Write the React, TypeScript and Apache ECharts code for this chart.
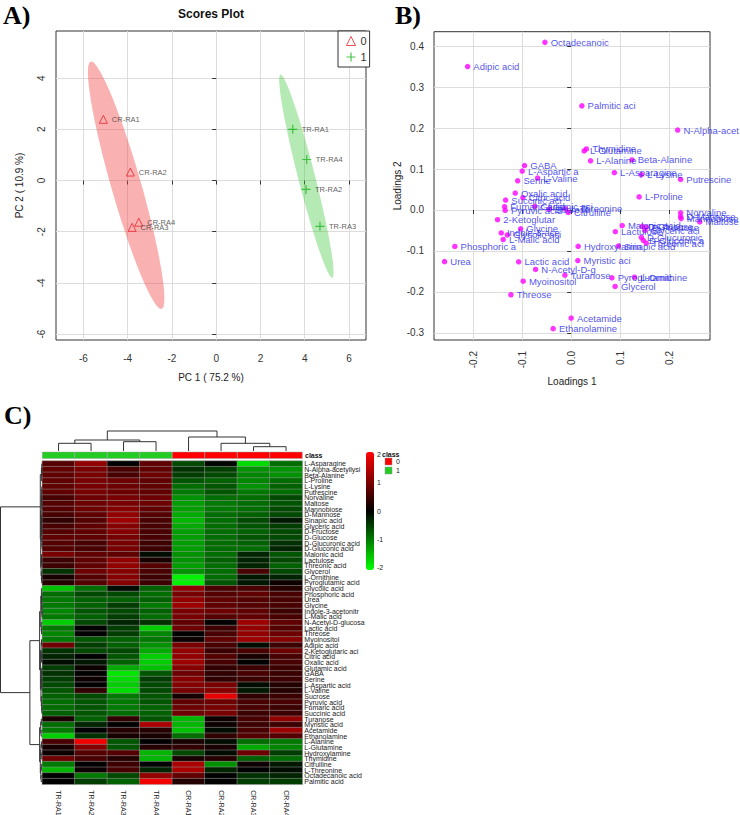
import React, { useEffect, useRef } from 'react';
import * as echarts from 'echarts';

const FONT = '"Liberation Sans", Arial, Helvetica, sans-serif';
const RED = '#e8262e';
const GREEN = '#1fb51f';

// ---------- Panel A: PCA scores ----------
const crNames = ['CR-RA1', 'CR-RA2', 'CR-RA3', 'CR-RA4'];
const crPC1 = [-5.1, -3.88, -3.8, -3.5];
const crPC2 = [2.39, 0.33, -1.83, -1.63];
const trNames = ['TR-RA1', 'TR-RA2', 'TR-RA3', 'TR-RA4'];
const trPC1 = [3.46, 4.06, 4.69, 4.09];
const trPC2 = [2.0, -0.35, -1.79, 0.82];
const pcTicksX = [-6, -4, -2, 0, 2, 4, 6];
const pcTicksY = [-6, -4, -2, 0, 2, 4];

// ---------- Metabolites (heatmap row order) ----------
const metabolites = [
  'L-Asparagine', 'N-Alpha-acetyllysine', 'Beta-Alanine', 'L-Proline', 'L-Lysine', 'Putrescine',
  'Norvaline', 'Maltose', 'Mannobiose', 'D-Mannose', 'Sinapic acid', 'Glyceric acid', 'D-Fructose',
  'D-Glucose', 'D-Glucuronic acid', 'D-Gluconic acid', 'Malonic acid', 'Lactulose', 'Threonic acid',
  'Glycerol', 'L-Ornithine', 'Pyroglutamic acid', 'Glycolic acid', 'Phosphoric acid', 'Urea',
  'Glycine', 'Indole-3-acetonitrile', 'L-Malic acid', 'N-Acetyl-D-glucosamine', 'Lactic acid',
  'Threose', 'Myoinositol', 'Adipic acid', '2-Ketoglutaric acid', 'Citric acid', 'Oxalic acid',
  'Glutamic acid', 'GABA', 'Serine', 'L-Aspartic acid', 'L-Valine', 'Sucrose', 'Pyruvic acid',
  'Fumaric acid', 'Succinic acid', 'Turanose', 'Myristic acid', 'Acetamide', 'Ethanolamine',
  'L-Alanine', 'L-Glutamine', 'Hydroxylamine', 'Thymidine', 'Citrulline', 'L-Threonine',
  'Octadecanoic acid', 'Palmitic acid',
];

// ---------- Panel B: loadings ----------
const load1 = [
  0.088, 0.217, 0.124, 0.1385, 0.143, 0.223, 0.223, 0.262, 0.224, 0.223, 0.096, 0.15, 0.153,
  0.145, 0.143, 0.147, 0.104, 0.09, 0.153, 0.0896, 0.129, 0.083, -0.13, -0.237, -0.258, -0.103,
  -0.1425, -0.1385, -0.0725, -0.107, -0.1228, -0.0978, -0.211, -0.15, -0.0984, -0.114, -0.074,
  -0.095, -0.109, -0.0998, -0.0684, -0.045, -0.1344, -0.1357, -0.1336, -0.0128, 0.0136, 0.0,
  -0.0367, 0.0395, 0.0265, 0.0143, 0.031, -0.006, -0.012, -0.0535, 0.0218,
];
const load2 = [
  0.091, 0.195, 0.122, 0.032, 0.086, 0.0745, -0.007, -0.029, -0.021, -0.016, -0.088, -0.05, -0.042,
  -0.04, -0.067, -0.074, -0.038, -0.053, -0.081, -0.1866, -0.164, -0.1655, -0.061, -0.089, -0.126,
  -0.046, -0.056, -0.072, -0.145, -0.1265, -0.2068, -0.1737, 0.35, -0.0236, 0.03, 0.0413, 0.009,
  0.1085, 0.0713, 0.0949, 0.0778, 0.002, -0.001, 0.008, 0.0243, -0.159, -0.1234, -0.2637, -0.2895,
  0.12, 0.144, -0.0885, 0.149, -0.006, 0.003, 0.409, 0.254,
];
const loadTicksX = [-0.2, -0.1, 0, 0.1, 0.2];
const loadTicksY = [-0.3, -0.2, -0.1, 0, 0.1, 0.2, 0.3, 0.4];

// ---------- Panel C: heatmap ----------
const sampleNames = ['TR-RA1', 'TR-RA2', 'TR-RA3', 'TR-RA4', 'CR-RA1', 'CR-RA2', 'CR-RA3', 'CR-RA4'];
const sampleClass = [1, 1, 1, 1, 0, 0, 0, 0];
const heatValues = [
  [0.7, 1.2, 0.0, 0.8, -0.6, -0.05, -1.8, -0.9],
  [0.8, 1.0, 0.6, 0.8, -0.4, -0.5, -1.2, -1.2],
  [0.8, 1.0, 0.6, 0.9, -0.5, -0.6, -1.1, -1.2],
  [0.8, 1.0, 0.9, 0.8, -0.7, -0.8, -1.1, -0.9],
  [0.8, 1.0, 0.9, 0.8, -0.9, -0.7, -1.2, -0.8],
  [0.8, 1.0, 0.9, 0.8, -1.0, -0.7, -1.0, -0.9],
  [0.6, 0.9, 1.0, 0.9, -1.2, -0.9, -0.9, -0.6],
  [0.7, 0.9, 1.0, 0.9, -1.3, -1.0, -0.9, -0.7],
  [0.7, 0.9, 1.1, 0.8, -1.3, -1.0, -0.9, -0.6],
  [0.6, 0.8, 1.2, 0.7, -1.4, -0.9, -0.8, -0.6],
  [0.4, 0.7, 1.3, 0.6, -1.5, -0.9, -0.6, -0.2],
  [0.6, 0.8, 1.1, 0.6, -1.4, -0.9, -0.7, -0.5],
  [0.7, 0.8, 1.1, 0.6, -1.3, -0.9, -0.8, -0.6],
  [0.8, 0.8, 1.0, 0.6, -1.3, -0.9, -0.7, -0.6],
  [0.7, 0.6, 1.0, 0.5, -1.3, -0.9, -0.8, -0.4],
  [0.7, 0.6, 1.0, 0.5, -1.3, -0.9, -0.9, -0.3],
  [1.0, 0.8, 0.8, -0.1, -1.2, -0.9, -0.3, -0.7],
  [0.5, 0.8, 1.2, 0.2, -1.2, -0.8, -0.3, -0.6],
  [0.5, 0.8, 1.2, 0.7, -1.3, -0.9, -0.3, -0.8],
  [-0.4, 0.9, 1.1, 0.6, -1.2, -0.9, 0.6, -0.6],
  [0.2, 0.7, 1.1, 0.5, -2.0, -0.9, -0.2, -0.3],
  [0.3, 0.7, 1.1, 0.5, -2.0, -0.7, -0.2, 0.1],
  [-1.6, -0.9, -0.1, -0.8, 1.2, 0.6, 0.6, 0.3],
  [-0.9, -0.6, -0.6, -0.9, 1.0, 0.7, 0.8, 0.6],
  [-1.0, -0.8, -0.8, -0.8, 1.2, 0.8, 0.7, 0.6],
  [-1.0, -0.8, -0.5, -1.0, 1.3, 0.8, 0.7, 0.6],
  [-1.1, -0.7, -0.6, -0.8, 1.0, 0.9, 0.8, 0.5],
  [-1.0, -0.8, -0.5, -0.9, 1.0, 0.7, 0.8, 0.6],
  [-1.7, -0.6, -0.3, -0.4, 0.8, 0.0, 1.3, 0.8],
  [-1.0, 0.0, -0.5, -1.7, 0.9, 0.5, 1.2, 0.7],
  [-1.1, 0.0, -0.5, -1.1, 0.0, 0.6, 1.2, 0.9],
  [-1.0, -0.7, -0.8, -1.0, 0.1, 0.8, 1.3, 1.1],
  [0.9, -0.5, -0.8, -1.2, 1.0, 0.6, -0.1, 0.5],
  [-0.4, -0.6, -0.6, -1.4, 1.2, 0.5, 0.6, 0.9],
  [-0.3, 0.0, -0.7, -1.7, 1.2, 0.7, 0.2, 0.6],
  [-0.1, -0.2, -0.8, -1.7, 1.3, 0.6, 0.0, 0.6],
  [-0.5, 0.1, -1.4, -1.6, 1.1, 0.4, 0.5, 0.5],
  [-0.4, 0.0, -1.9, -0.7, 0.9, 0.4, 0.6, 0.5],
  [-0.5, 0.1, -1.8, -0.5, 1.1, 0.4, 0.5, 0.5],
  [-0.6, 0.0, -1.7, -0.6, 1.1, 1.0, -0.1, 0.3],
  [-0.7, 0.4, -1.8, -0.6, 1.0, 1.1, -0.2, 0.3],
  [-0.8, -0.6, -1.0, -0.7, 0.2, 1.9, 0.4, 0.5],
  [-0.9, -0.7, -1.0, -0.7, 0.8, 0.9, 0.6, 0.6],
  [-0.9, -0.7, -1.0, -0.8, 0.9, 1.0, 0.6, 0.5],
  [-0.8, -0.7, -0.9, -0.8, 0.9, 1.0, 0.5, 0.5],
  [0.2, -0.8, 0.4, -0.7, -1.5, 0.1, 0.6, 1.2],
  [-0.9, -0.3, 0.0, 1.4, -1.5, 0.1, 0.5, 0.5],
  [-1.0, 0.0, 0.3, 0.3, -1.6, -0.1, 0.6, 1.3],
  [-1.7, -0.4, 0.2, 0.2, -0.9, 0.4, 0.7, 0.7],
  [0.6, 2.0, -0.7, 0.0, 0.2, -0.1, -0.9, -1.0],
  [0.2, 1.1, -0.7, 0.3, 0.4, 0.2, -1.4, -1.1],
  [0.1, 0.7, 0.7, -1.5, -0.6, -0.1, 0.9, -0.5],
  [0.9, 0.6, 0.3, -1.5, 0.2, 0.3, -0.8, -0.9],
  [-1.0, 0.0, 0.5, 0.0, 1.4, -1.2, 0.1, -0.2],
  [-1.5, 0.1, 0.6, -0.3, 1.4, -0.3, 0.0, -0.1],
  [0.0, -1.0, -0.6, 1.2, 0.8, 0.0, -0.4, -0.3],
  [0.0, -0.5, -0.8, 2.0, 0.3, 0.0, -0.5, -0.5],
];
const colorbarTicks = [2, 1, 0, -1, -2];
const colorRange = [-2.1, 2.1];

// dendrograms: [height, left, right], leaves are indices
const colTree: any = [20, [11, [7.7, 0, 1], [9.3, 2, 3]], [14, 4, [7.7, 5, [4.3, 6, 7]]]];
const rowTreeTop: any = [2.0,
  [0.9, [0.5, 0, [0.35, 1, 2]], 3],
  [1.6,
    [1.1, [0.7, [0.4, 4, 5], [0.5, 6, [0.3, 7, 8]]], [0.8, [0.5, 9, 10], [0.6, [0.3, 11, 12], [0.4, 13, [0.25, 14, 15]]]]],
    [1.2, [0.8, 16, [0.5, 17, 18]], [0.9, 19, [0.6, 20, 21]]]]];
const rowTreeA1: any = [1.5, [0.9, 22, [0.6, [0.4, 23, 24], [0.35, 25, [0.3, 26, 27]]]], [1.1, 28, [0.7, 29, 30]]];
const rowTreeA2: any = [1.9, [1.2, [0.8, 31, 32], [0.7, [0.5, 33, 34], 35]],
  [1.4, [0.9, [0.6, 36, 37], [0.5, 38, [0.4, 39, 40]]], [1.0, 41, [0.6, 42, [0.4, 43, 44]]]]];
const rowTreeB: any = [1.6, [1.0, 45, 46], [1.2, 47, 48]];
const rowTreeC: any = [2.0, [1.4, [0.9, 49, 50], [1.1, 51, 52]], [1.5, [1.0, 53, 54], [1.2, 55, 56]]];
const rowTree: any = [42, rowTreeTop, [12.5, [2.7, rowTreeA1, rowTreeA2], [2.7, rowTreeB, rowTreeC]]];

// ---------- helpers ----------
function confEllipse(xs: number[], ys: number[], n = 120): number[][] {
  const m = xs.length;
  const mx = xs.reduce((a, b) => a + b, 0) / m;
  const my = ys.reduce((a, b) => a + b, 0) / m;
  let sxx = 0, syy = 0, sxy = 0;
  for (let i = 0; i < m; i++) {
    const dx = xs[i] - mx, dy = ys[i] - my;
    sxx += dx * dx; syy += dy * dy; sxy += dx * dy;
  }
  sxx /= m - 1; syy /= m - 1; sxy /= m - 1;
  const tr = sxx + syy, det = sxx * syy - sxy * sxy;
  const disc = Math.sqrt(Math.max(tr * tr / 4 - det, 0));
  const l1 = tr / 2 + disc, l2 = Math.max(tr / 2 - disc, 0);
  let vx = sxy, vy = l1 - sxx;
  const nrm = Math.hypot(vx, vy) || 1;
  vx /= nrm; vy /= nrm;
  const t = Math.sqrt(5.991464547); // chi-square 95%, 2 df
  const a = t * Math.sqrt(l1), b = t * Math.sqrt(l2);
  const pts: number[][] = [];
  for (let k = 0; k < n; k++) {
    const th = (2 * Math.PI * k) / n;
    const c = Math.cos(th), s = Math.sin(th);
    pts.push([mx + a * c * vx - b * s * vy, my + a * c * vy + b * s * vx]);
  }
  return pts;
}

function dendroSegments(tree: any, segs: number[][]): [number, number] {
  if (typeof tree === 'number') return [tree + 0.5, 0];
  const [h, l, r] = tree;
  const [pl, hl] = dendroSegments(l, segs);
  const [pr, hr] = dendroSegments(r, segs);
  segs.push([pl, hl, pl, h]);
  segs.push([pr, hr, pr, h]);
  segs.push([pl, h, pr, h]);
  return [(pl + pr) / 2, h];
}

function buildOption(): any {
  const ellipses = [confEllipse(crPC1, crPC2), confEllipse(trPC1, trPC2)];
  const ellipseColors = ['rgba(240,70,70,0.42)', 'rgba(60,200,60,0.38)'];

  const colSegs: number[][] = [];
  dendroSegments(colTree, colSegs);
  const rowSegsRaw: number[][] = [];
  dendroSegments(rowTree, rowSegsRaw);
  const rowSegs = rowSegsRaw.map(([p1, h1, p2, h2]) => [h1, p1, h2, p2]);

  const heatData: number[][] = [];
  heatValues.forEach((row, r) => row.forEach((v, c) => heatData.push([c, r, v])));

  const tickText = { fontFamily: FONT, fontSize: 10, color: '#333' };
  const splitLine = { show: true, lineStyle: { color: '#dddddd', width: 1 } };
  const tick = (vals: number[]) => ({ show: true, length: 4, customValues: vals, lineStyle: { color: '#333' } });
  const hidden = { show: false };

  const lineRender = (params: any, api: any) => {
    const a = api.coord([api.value(0), api.value(1)]);
    const b = api.coord([api.value(2), api.value(3)]);
    return {
      type: 'line',
      shape: { x1: a[0], y1: a[1], x2: b[0], y2: b[1] },
      style: { stroke: '#333', lineWidth: 1 },
    };
  };

  const panelFont = 'bold 26px "Liberation Serif", "DejaVu Serif", serif';
  const cbTop = 452, cbLen = 118;
  const graphic: any[] = [
    { type: 'text', x: 3, y: 15, style: { text: 'A)', font: panelFont, fill: '#000', textVerticalAlign: 'middle' } },
    { type: 'text', x: 395, y: 15, style: { text: 'B)', font: panelFont, fill: '#000', textVerticalAlign: 'middle' } },
    { type: 'text', x: 4, y: 415, style: { text: 'C)', font: panelFont, fill: '#000', textVerticalAlign: 'middle' } },
    { type: 'text', x: 211, y: 14, style: { text: 'Scores Plot', font: `bold 12px ${FONT}`, fill: '#111', textAlign: 'center', textVerticalAlign: 'middle' } },
    { type: 'text', x: 305, y: 455.5, style: { text: 'class', font: `bold 7px ${FONT}`, fill: '#111', textVerticalAlign: 'middle' } },
    { type: 'text', x: 382, y: 454, style: { text: 'class', font: `bold 7px ${FONT}`, fill: '#111', textVerticalAlign: 'middle' } },
    { type: 'rect', shape: { x: 385, y: 458, width: 7, height: 7 }, style: { fill: '#ff0000', stroke: '#999', lineWidth: 0.5 } },
    { type: 'rect', shape: { x: 385, y: 467, width: 7, height: 7 }, style: { fill: '#22cc22', stroke: '#999', lineWidth: 0.5 } },
    { type: 'text', x: 396, y: 461.5, style: { text: '0', font: `7px ${FONT}`, fill: '#222', textVerticalAlign: 'middle' } },
    { type: 'text', x: 396, y: 470.5, style: { text: '1', font: `7px ${FONT}`, fill: '#222', textVerticalAlign: 'middle' } },
  ];
  colorbarTicks.forEach((v) => {
    graphic.push({
      type: 'text', x: 377,
      y: cbTop + ((colorRange[1] - v) / (colorRange[1] - colorRange[0])) * cbLen,
      style: { text: String(v), font: `7px ${FONT}`, fill: '#222', textVerticalAlign: 'middle' },
    });
  });

  return {
    animation: false,
    backgroundColor: '#ffffff',
    textStyle: { fontFamily: FONT },
    graphic,
    legend: {
      orient: 'vertical', left: 338, top: 31, padding: [3, 3, 3, 6], itemGap: 2,
      itemWidth: 9, itemHeight: 9, borderColor: '#333', borderWidth: 1, borderRadius: 0,
      backgroundColor: '#ffffff', selectedMode: false,
      textStyle: { fontFamily: FONT, fontSize: 11, color: '#333' },
      data: [
        { name: '0', icon: 'triangle', itemStyle: { color: 'none', borderColor: RED, borderWidth: 1 } },
        { name: '1', icon: 'path://M5,0L5,10M0,5L10,5', itemStyle: { color: 'none', borderColor: GREEN, borderWidth: 1.2 } },
      ],
    },
    visualMap: {
      type: 'continuous', seriesIndex: 4, dimension: 2, min: colorRange[0], max: colorRange[1],
      inRange: { color: ['#00ff00', '#000000', '#ff0000'] },
      left: 366, top: cbTop, itemWidth: 8, itemHeight: cbLen, calculable: false,
      padding: 0, orient: 'vertical', showLabel: false, hoverLink: false,
    },
    grid: [
      { left: 56, top: 31, width: 310, height: 309, show: true, borderColor: '#333', borderWidth: 1, backgroundColor: 'transparent', outerBoundsMode: 'none', containLabel: false },
      { left: 434, top: 31.7, width: 276, height: 308.3, show: true, borderColor: '#333', borderWidth: 1, backgroundColor: 'transparent', outerBoundsMode: 'none', containLabel: false },
      { left: 42.3, top: 461, width: 260, height: 323.3, outerBoundsMode: 'none', containLabel: false },
      { left: 42.3, top: 431, width: 260, height: 20, outerBoundsMode: 'none', containLabel: false },
      { left: 0.5, top: 461, width: 41.8, height: 323.3, outerBoundsMode: 'none', containLabel: false },
      { left: 42.3, top: 452, width: 260, height: 6.5, outerBoundsMode: 'none', containLabel: false },
    ],
    xAxis: [
      {
        gridIndex: 0, type: 'value', min: -7.24, max: 6.77, axisLine: hidden,
        axisTick: tick(pcTicksX), axisLabel: { ...tickText, customValues: pcTicksX, margin: 13 },
        splitLine, name: 'PC 1 ( 75.2 %)', nameLocation: 'middle', nameGap: 32, nameMoveOverlap: false,
        nameTextStyle: { fontFamily: FONT, fontSize: 10, color: '#222' },
      },
      {
        gridIndex: 1, type: 'value', min: -0.2795, max: 0.2829, axisLine: hidden,
        axisTick: tick(loadTicksX),
        axisLabel: { ...tickText, customValues: loadTicksX, rotate: 90, margin: 11, formatter: (v: number) => v.toFixed(1) },
        splitLine, name: 'Loadings 1', nameLocation: 'middle', nameGap: 36, nameMoveOverlap: false,
        nameTextStyle: { fontFamily: FONT, fontSize: 10, color: '#222' },
      },
      {
        gridIndex: 2, type: 'category', data: sampleNames, axisLine: hidden, axisTick: hidden,
        axisLabel: { fontFamily: FONT, fontSize: 7, color: '#222', rotate: -90, margin: 6, interval: 0, hideOverlap: false },
        splitLine: hidden,
      },
      { gridIndex: 3, type: 'value', min: 0, max: 8, show: false },
      { gridIndex: 4, type: 'value', min: 0, max: 42, inverse: true, show: false },
      { gridIndex: 5, type: 'value', min: 0, max: 8, show: false },
    ],
    yAxis: [
      {
        gridIndex: 0, type: 'value', min: -6.23, max: 5.84, axisLine: hidden,
        axisTick: tick(pcTicksY), axisLabel: { ...tickText, customValues: pcTicksY, rotate: 90, margin: 10 },
        splitLine, name: 'PC 2 ( 10.9 %)', nameLocation: 'middle', nameGap: 32, nameRotate: 90, nameMoveOverlap: false,
        nameTextStyle: { fontFamily: FONT, fontSize: 10, color: '#222' },
      },
      {
        gridIndex: 1, type: 'value', min: -0.3172, max: 0.435, axisLine: hidden,
        axisTick: tick(loadTicksY),
        axisLabel: { ...tickText, customValues: loadTicksY, margin: 10, formatter: (v: number) => v.toFixed(1) },
        splitLine, name: 'Loadings 2', nameLocation: 'middle', nameGap: 32, nameRotate: 90, nameMoveOverlap: false,
        nameTextStyle: { fontFamily: FONT, fontSize: 10, color: '#222' },
      },
      {
        gridIndex: 2, type: 'category', data: metabolites.map((s) => s.slice(0, 18)), inverse: true,
        position: 'right', axisLine: hidden, axisTick: hidden,
        axisLabel: { fontFamily: FONT, fontSize: 7, color: '#222', margin: 2, interval: 0, hideOverlap: false },
        splitLine: hidden,
      },
      { gridIndex: 3, type: 'value', min: 0, max: 20, show: false },
      { gridIndex: 4, type: 'value', min: 0, max: 57, inverse: true, show: false },
      { gridIndex: 5, type: 'value', min: 0, max: 1, show: false },
    ],
    series: [
      {
        type: 'custom', name: 'ellipse', xAxisIndex: 0, yAxisIndex: 0, z: 1, silent: true,
        data: [[crPC1[0], crPC2[0], 0], [trPC1[0], trPC2[0], 1]],
        encode: { x: 0, y: 1 },
        renderItem: (params: any, api: any) => {
          const g = api.value(2);
          return {
            type: 'polygon',
            shape: { points: ellipses[g].map((p) => api.coord(p)) },
            style: { fill: ellipseColors[g], stroke: 'none' },
          };
        },
      },
      {
        type: 'scatter', name: '0', xAxisIndex: 0, yAxisIndex: 0, z: 3, symbol: 'triangle', symbolSize: 8,
        itemStyle: { color: 'none', borderColor: RED, borderWidth: 1 },
        label: { show: true, position: 'right', distance: 2, formatter: '{b}', fontFamily: FONT, fontSize: 7.5, color: '#333' },
        data: crNames.map((n, i) => ({ name: n, value: [crPC1[i], crPC2[i]] })),
      },
      {
        type: 'scatter', name: '1', xAxisIndex: 0, yAxisIndex: 0, z: 3, symbol: 'path://M5,0L5,10M0,5L10,5', symbolSize: 9,
        itemStyle: { color: 'none', borderColor: GREEN, borderWidth: 1.2 },
        label: { show: true, position: 'right', distance: 2, formatter: '{b}', fontFamily: FONT, fontSize: 7.5, color: '#333' },
        data: trNames.map((n, i) => ({ name: n, value: [trPC1[i], trPC2[i]] })),
      },
      {
        type: 'scatter', name: 'loadings', xAxisIndex: 1, yAxisIndex: 1, z: 3, symbol: 'circle', symbolSize: 5.5,
        itemStyle: { color: '#ff00ff' },
        label: { show: true, position: 'right', distance: 3, formatter: '{b}', fontFamily: FONT, fontSize: 9.5, color: '#2424e6' },
        data: metabolites.map((n, i) => ({ name: n.slice(0, 12), value: [load1[i], load2[i]] })),
      },
      {
        type: 'heatmap', name: 'heat', xAxisIndex: 2, yAxisIndex: 2, data: heatData,
        itemStyle: { borderColor: '#9a9a9a', borderWidth: 0.5 },
        emphasis: { disabled: true },
      },
      {
        type: 'custom', name: 'coldendro', xAxisIndex: 3, yAxisIndex: 3, silent: true,
        data: colSegs, encode: { x: [0, 2], y: [1, 3] }, renderItem: lineRender,
      },
      {
        type: 'custom', name: 'rowdendro', xAxisIndex: 4, yAxisIndex: 4, silent: true,
        data: rowSegs, encode: { x: [0, 2], y: [1, 3] }, renderItem: lineRender,
      },
      {
        type: 'custom', name: 'classbar', xAxisIndex: 5, yAxisIndex: 5, silent: true,
        data: sampleClass.map((c, i) => [i, c]), encode: { x: 0, y: 1 },
        renderItem: (params: any, api: any) => {
          const i = api.value(0);
          const c = api.value(1);
          const p0 = api.coord([i, 1]);
          const p1 = api.coord([i + 1, 0]);
          return {
            type: 'rect',
            shape: { x: p0[0], y: p0[1], width: p1[0] - p0[0], height: p1[1] - p0[1] },
            style: { fill: c === 0 ? '#ff0000' : '#22cc22', stroke: '#a0a0a0', lineWidth: 0.5 },
          };
        },
      },
    ],
  };
}

export default function App() {
  const ref = useRef<HTMLDivElement>(null);
  useEffect(() => {
    if (!ref.current) return;
    const chart = echarts.init(ref.current, null, { renderer: 'svg' });
    chart.setOption(buildOption());
    return () => chart.dispose();
  }, []);
  return (
    <div
      ref={ref}
      style={{ position: 'fixed', left: 0, top: 0, width: 740, height: 815, background: '#ffffff' }}
    />
  );
}
